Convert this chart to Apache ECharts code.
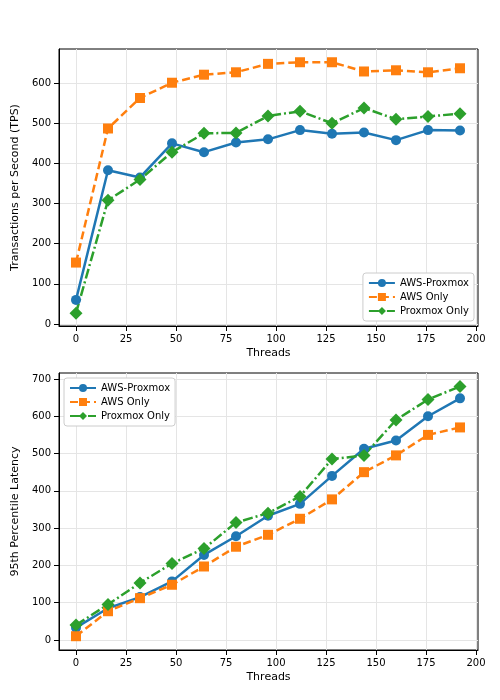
<!DOCTYPE html><html><head><meta charset="utf-8"><script src="https://cdn.jsdelivr.net/npm/echarts@6/dist/echarts.min.js"></script>
<style>body{margin:0;background:#fff}#c{width:500px;height:700px}</style></head><body><div id="c"></div><script>
const threads=[0,16,32,48,64,80,96,112,128,144,160,176,192];
const tpsAwsProxmox=[60,383,365,450,428,452,460,483,474,477,458,483,482];
const tpsAwsOnly=[153,487,563,601,621,627,648,652,652,629,632,627,637];
const tpsProxmoxOnly=[27,308,360,428,475,476,518,530,500,538,510,517,524];
const latAwsProxmox=[33,85,115,157,228,278,333,365,440,513,535,600,648];
const latAwsOnly=[10,77,112,148,197,250,282,325,377,450,495,550,570];
const latProxmoxOnly=[40,95,153,205,245,315,340,385,485,495,590,645,680];
const xTicks=[0,25,50,75,100,125,150,175,200];
const yTicksTop=[0,100,200,300,400,500,600];
const yTicksBot=[0,100,200,300,400,500,600,700];
const names=['AWS-Proxmox','AWS Only','Proxmox Only'];
const colors=['#1f77b4','#ff7f0e','#2ca02c'];
const symbols=['circle','rect','diamond'];
const dashes=['solid',[8,4],[10,3,2,3]];
const font='DejaVu Sans';
const txt={color:'#000',fontFamily:font,fontSize:10};
function mk(d,i,ax){return {name:names[i],type:'line',xAxisIndex:ax,yAxisIndex:ax,data:threads.map((t,k)=>[t,d[k]]),
 symbol:symbols[i],symbolSize:symbols[i]==='diamond'?13:10,itemStyle:{color:colors[i]},
 lineStyle:{color:colors[i],width:2.5,type:dashes[i]}};}
function xa(i){return {type:'value',gridIndex:i,min:-8.5,max:201,name:'Threads',nameLocation:'middle',nameGap:22,nameTextStyle:{...txt,fontSize:11},
 axisLine:{onZero:false,lineStyle:{color:'#000'}},axisTick:{customValues:xTicks,lineStyle:{color:'#000'}},axisLabel:{...txt,customValues:xTicks},
 splitLine:{show:true,lineStyle:{color:'#e5e5e5'}}};}
function ya(i,mn,mx,t,name){return {type:'value',gridIndex:i,min:mn,max:mx,name:name,nameLocation:'middle',nameGap:38,nameTextStyle:{...txt,fontSize:11},
 axisLine:{show:true,onZero:false,lineStyle:{color:'#000'}},axisTick:{show:true,customValues:t,lineStyle:{color:'#000'}},axisLabel:{...txt,customValues:t},
 splitLine:{show:true,lineStyle:{color:'#e5e5e5'}}};}
const leg=(idx,pos)=>Object.assign({data:names,orient:'vertical',itemWidth:26,itemHeight:10,itemGap:4,textStyle:{...txt},
 backgroundColor:'#fff',borderColor:'#ccc',borderWidth:1,borderRadius:3,padding:5},pos);
const chart=echarts.init(document.getElementById('c'));
chart.setOption({animation:false,
 grid:[{left:59,right:22,top:49,bottom:374,show:true,borderColor:'#000',borderWidth:1},{left:59,right:22,top:373,bottom:50,show:true,borderColor:'#000',borderWidth:1}],
 xAxis:[xa(0),xa(1)],
 yAxis:[ya(0,-5,685,yTicksTop,'Transactions per Second (TPS)'),ya(1,-27,716,yTicksBot,'95th Percentile Latency')],
 legend:[leg(0,{right:26,top:273}),leg(1,{left:64,top:378})],
 series:[mk(tpsAwsProxmox,0,0),mk(tpsAwsOnly,1,0),mk(tpsProxmoxOnly,2,0),mk(latAwsProxmox,0,1),mk(latAwsOnly,1,1),mk(latProxmoxOnly,2,1)]
});
</script></body></html>
